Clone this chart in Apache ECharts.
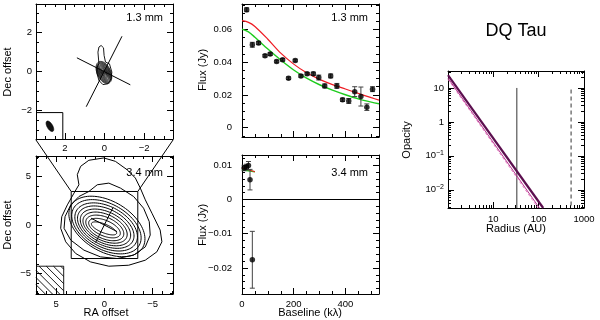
<!DOCTYPE html>
<html><head><meta charset="utf-8">
<script src="https://cdn.jsdelivr.net/npm/echarts@6/dist/echarts.min.js"></script>
<style>html,body{margin:0;padding:0;background:#fff}#c{width:600px;height:320px}</style>
</head><body><div id="c"></div>
<script>
// ================= DATA =================
// Map panels (arcsec offsets)
const map13Range = [-3.45, 3.45];
const map13Major = [-2, 0, 2];
const map13Minor = [-3, -2.5, -1.5, -1, -0.5, 0.5, 1, 1.5, 2.5, 3];
const map34Range = [-7.1, 7.1];
const map34Major = [-5, 0, 5];
const map34Minor = [-7, -6, -4, -3, -2, -1, 1, 2, 3, 4, 6, 7];

// 1.3 mm outer contour (with northern loop)
const contour13Outer = [[0.28,0.39],[0.33,0.99],[0.28,1.25],[0.17,1.33],[0.05,1.21],[0.02,0.82],[-0.05,0.48],[-0.25,0.39],[-0.37,-0.03],[-0.33,-0.38],[-0.17,-0.63],[0.08,-0.67],[0.28,-0.46],[0.38,-0.09],[0.38,0.22],[0.28,0.39]];
// 1.3 mm nested contour levels (elliptical): semi-axes, PA
const contour13A = [0.60,0.55,0.50,0.45,0.40,0.35,0.30,0.25,0.20,0.15,0.10,0.06];
const contour13B = [0.34,0.31,0.28,0.25,0.22,0.19,0.16,0.13,0.11,0.08,0.06,0.03];
const contour13PA = 24;
const contour13Center = [0.03, -0.05];
// beams
const beam13 = {x: 2.75, y: -2.8, a: 0.3, b: 0.14, pa: 30};
const beamBox13 = [2.1, -2.1];
const hatchBox34 = [4.23, -4.24];
// position-angle lines
const paLine1 = [[1.39, 0.70], [-1.30, -0.68]];
const paLine2 = [[0.92, -1.80], [-0.88, 1.80]];

// 3.4 mm irregular outer contours
const contour34L1 = [[2.65,4.14],[2.82,5.18],[2.47,6.04],[1.62,6.66],[0.07,6.9],[-1.13,6.55],[-2.34,5.69],[-3.2,4.83],[-3.71,3.8],[-4.23,2.59],[-4.92,1.21],[-5.77,-0.52],[-5.95,-1.73],[-5.43,-2.76],[-4.23,-3.62],[-2.51,-4.14],[-0.45,-4.24],[1.44,-3.8],[2.99,-2.93],[4.02,-1.73],[4.54,-0.34],[4.43,0.86],[3.85,2.07],[3.16,3.28],[2.65,4.14]];
const contour34L2 = [[1.62,3.45],[0.75,4.14],[-0.45,4.31],[-1.65,3.8],[-3.02,2.93],[-4.05,1.73],[-4.64,0.34],[-4.74,-1.04],[-4.23,-2.25],[-3.02,-3.1],[-1.31,-3.45],[0.41,-3.28],[2.13,-2.59],[3.5,-1.55],[4.19,-0.34],[4.09,0.86],[3.5,2.07],[2.65,2.93],[1.62,3.45]];
// 3.4 mm nested contour levels (elliptical)
const contour34A  = [4.3,3.9,3.5,3.15,2.8,2.45,2.1,1.75,1.4];
const contour34B  = [2.6,2.35,2.1,1.85,1.6,1.35,1.1,0.8,0.45];
const contour34PA = [60,61,62,63,64,65,66,67,68];
const contour34X  = [-0.25,-0.2,-0.17,-0.13,-0.1,-0.06,-0.03,0,0.05];
const contour34Y  = [-0.15,-0.18,-0.2,-0.22,-0.25,-0.27,-0.3,-0.32,-0.35];

// Visibility panels
const baselineRange = [0, 530];
const baselineMajor = [0, 200, 400];
const baselineMinor = [50, 100, 150, 250, 300, 350, 450, 500];
const flux13Range = [-0.0057, 0.0755];
const flux13Major = [0, 0.02, 0.04, 0.06];
const flux13Minor = [-0.005,0.005,0.01,0.015,0.025,0.03,0.035,0.045,0.05,0.055,0.065,0.07,0.075];
const flux34Range = [-0.0276, 0.013];
const flux34Major = [-0.02, -0.01, 0, 0.01];
const flux34Minor = [-0.026,-0.024,-0.022,-0.018,-0.016,-0.014,-0.012,-0.008,-0.006,-0.004,-0.002,0.002,0.004,0.006,0.008,0.012];

const uv13Baseline = [18,40,64,89,109,134,157,180,206,228,252,276,297,320,343,367,389,413,436,460,483,505];
const uv13Flux = [0.0720,0.0506,0.0517,0.0439,0.0449,0.0404,0.0414,0.0302,0.0410,0.0316,0.0329,0.0329,0.0306,0.0255,0.0316,0.0255,0.0170,0.0163,0.0220,0.0190,0.0125,0.0235];
const uv13Err  = [0.0012,0.0015,0.0010,0.0008,0.0008,0.0008,0.0008,0.0008,0.0008,0.0008,0.0008,0.0010,0.0015,0.0012,0.0012,0.0015,0.0010,0.0015,0.0030,0.0058,0.0020,0.0015];
const model13Baseline = [0,25,50,100,150,200,250,300,350,400,450,500,530];
const model13Red   = [0.0653,0.0643,0.0618,0.0540,0.0455,0.0388,0.0335,0.0295,0.0263,0.0236,0.0209,0.0183,0.0168];
const model13Green = [0.0602,0.0585,0.0552,0.0480,0.0413,0.0352,0.0302,0.0262,0.0229,0.0201,0.0176,0.0156,0.0146];

const uv34Baseline = [8, 17, 25, 31, 40];
const uv34Flux = [0.0092, 0.0095, 0.0099, 0.0058, -0.0176];
const uv34Err  = [0.0008, 0.0008, 0.0012, 0.0030, 0.0083];
const model34Baseline = [0, 25, 50];
const model34Red   = [0.0092, 0.0087, 0.0081];
const model34Green = [0.0087, 0.0084, 0.0081];

// Opacity panel
const radiusRange = [1, 1000];
const radiusMajor = [1, 10, 100, 1000];
const radiusMinor = [2,3,4,5,6,7,8,9,20,30,40,50,60,70,80,90,200,300,400,500,600,700,800,900];
const opacityRange = [0.0029, 31.6];
const opacityMajor = [0.01, 0.1, 1, 10];
const opacityMinor = [0.003,0.004,0.005,0.006,0.007,0.008,0.009,0.02,0.03,0.04,0.05,0.06,0.07,0.08,0.09,0.2,0.3,0.4,0.5,0.6,0.7,0.8,0.9,2,3,4,5,6,7,8,9,20,30];
const opacityRadiusA = [1, 126];  const opacityA = [24, 0.0029];
const opacityRadiusB = [1, 104];  const opacityB = [19.5, 0.0029];
const opacityRadiusC = [1, 97];   const opacityC = [18, 0.0029];
const gapRadius = 33;   const gapOpacity = [10, 0.0029];
const outerRadius = 520; const outerOpacity = [9, 0.0029];

// ================= BUILD =================
const FONT = 'Liberation Sans';
const TICKFS = 9.5;
const xAxes = [], yAxes = [];
const supRich = {b: {fontSize: TICKFS, fontFamily: FONT, color: '#000'}, s: {fontSize: 7, fontFamily: FONT, color: '#000', verticalAlign: 'top', padding: [0, 0, 5, 0]}};

function addAxes(list, grid, dim, cfg) {
  const dataIdx = list.length;
  list.push({type: cfg.log ? 'log' : 'value', logBase: 10, gridIndex: grid, min: cfg.min, max: cfg.max,
    inverse: !!cfg.inverse, show: false});
  const tr = cfg.log ? (v => Math.log10(v)) : (v => v);
  const dmin = tr(cfg.min), dmax = tr(cfg.max);
  const sides = dim === 'x' ? ['bottom', 'top'] : ['left', 'right'];
  sides.forEach((pos, si) => {
    list.push({
      type: 'value', gridIndex: grid, position: pos, min: dmin, max: dmax, inverse: !!cfg.inverse,
      axisLine: {show: true, onZero: false, lineStyle: {color: '#000', width: 1}},
      axisTick: {show: false},
      axisLabel: {show: si === 0 && !!cfg.fmt, customValues: cfg.majors.map(tr), formatter: cfg.fmt,
        margin: cfg.margin || 4, fontSize: TICKFS, fontFamily: FONT, color: '#000', rich: supRich},
      splitLine: {show: false}, splitArea: {show: false}
    });
  });
  return dataIdx;
}
const minus = v => (v < 0 ? '\u2212' + String(-v) : String(v));

const grids = [
  {left: 36, top: 4, width: 137, height: 135},
  {left: 36, top: 156, width: 137, height: 138},
  {left: 242, top: 4, width: 137, height: 133},
  {left: 242, top: 155, width: 137, height: 139},
  {left: 448, top: 71, width: 136, height: 137}
];
const TK = [
  {xr: map13Range, yr: map13Range, xM: map13Major, xm: map13Minor, yM: map13Major, ym: map13Minor, log: false},
  {xr: map34Range, yr: map34Range, xM: map34Major, xm: map34Minor, yM: map34Major, ym: map34Minor, log: false},
  {xr: baselineRange, yr: flux13Range, xM: baselineMajor, xm: baselineMinor, yM: flux13Major, ym: flux13Minor, log: false},
  {xr: baselineRange, yr: flux34Range, xM: baselineMajor, xm: baselineMinor, yM: flux34Major, ym: flux34Minor, log: false},
  {xr: radiusRange, yr: opacityRange, xM: radiusMajor, xm: radiusMinor, yM: opacityMajor, ym: opacityMinor, log: true}
];
const AX = [];
AX[0] = {x: addAxes(xAxes, 0, 'x', {min: map13Range[0], max: map13Range[1], inverse: true, majors: map13Major, fmt: minus, margin: 4}),
         y: addAxes(yAxes, 0, 'y', {min: map13Range[0], max: map13Range[1], majors: map13Major, fmt: minus, margin: 4})};
AX[1] = {x: addAxes(xAxes, 1, 'x', {min: map34Range[0], max: map34Range[1], inverse: true, majors: map34Major, fmt: minus, margin: 5}),
         y: addAxes(yAxes, 1, 'y', {min: map34Range[0], max: map34Range[1], majors: map34Major, fmt: minus, margin: 5})};
AX[2] = {x: addAxes(xAxes, 2, 'x', {min: baselineRange[0], max: baselineRange[1], majors: baselineMajor, fmt: null}),
         y: addAxes(yAxes, 2, 'y', {min: flux13Range[0], max: flux13Range[1], majors: flux13Major, fmt: minus, margin: 10})};
AX[3] = {x: addAxes(xAxes, 3, 'x', {min: baselineRange[0], max: baselineRange[1], majors: baselineMajor, fmt: minus, margin: 5}),
         y: addAxes(yAxes, 3, 'y', {min: flux34Range[0], max: flux34Range[1], majors: flux34Major, fmt: minus, margin: 10})};
AX[4] = {x: addAxes(xAxes, 4, 'x', {log: true, min: radiusRange[0], max: radiusRange[1], majors: radiusMajor, margin: 6,
            fmt: v => { const n = Math.round(v); return n === 0 ? '' : String(Math.pow(10, n)); }}),
         y: addAxes(yAxes, 4, 'y', {log: true, min: opacityRange[0], max: opacityRange[1], majors: opacityMajor, margin: 4,
            fmt: v => { const n = Math.round(v); if (n === 0) return '1'; if (n === 1) return '10'; return '{b|10}{s|\u2212' + (-n) + '}'; }})};

function ellipse(cx, cy, a, b, paDeg) {
  const pa = paDeg * Math.PI / 180, n = 90, pts = [];
  const ux = Math.sin(pa), uy = Math.cos(pa), vx = Math.cos(pa), vy = -Math.sin(pa);
  for (let i = 0; i <= n; i++) {
    const t = 2 * Math.PI * i / n, c = Math.cos(t), s = Math.sin(t);
    pts.push([cx + a * c * ux + b * s * vx, cy + a * c * uy + b * s * vy]);
  }
  return pts;
}
function polySeries(g, polys, st) {
  return {type: 'custom', xAxisIndex: AX[g].x, yAxisIndex: AX[g].y, silent: true, clip: false,
    data: polys.map((p, i) => [0, 0, i]),
    renderItem: (params, api) => {
      const pts = polys[api.value(2)].map(p => api.coord(p));
      return {type: st.fill ? 'polygon' : 'polyline', shape: {points: pts},
        style: {fill: st.fill || 'none', stroke: st.stroke || '#000', lineWidth: st.lw || 0.8}};
    }};
}
function lineSeries(g, xs, ys, st) {
  return {type: 'line', xAxisIndex: AX[g].x, yAxisIndex: AX[g].y, data: xs.map((x, i) => [x, ys[i]]),
    showSymbol: false, symbol: 'none', smooth: st.smooth || false, silent: true, clip: true,
    lineStyle: {color: st.color || '#000', width: st.width || 1, type: st.type || 'solid'}, z: st.z || 2};
}
function pairSeries(g, pts, st) {
  return lineSeries(g, pts.map(p => p[0]), pts.map(p => p[1]), st);
}
function errSeries(g, xs, ys, es) {
  return {type: 'custom', xAxisIndex: AX[g].x, yAxisIndex: AX[g].y, silent: true, clip: false,
    data: xs.map((x, i) => [x, ys[i], es[i]]),
    renderItem: (params, api) => {
      const x = api.value(0), y = api.value(1), e = api.value(2);
      const p1 = api.coord([x, y - e]), p2 = api.coord([x, y + e]), w = 2.5;
      const st = {stroke: '#444', lineWidth: 1, fill: 'none'};
      return {type: 'group', children: [
        {type: 'line', shape: {x1: p1[0], y1: p1[1], x2: p2[0], y2: p2[1]}, style: st},
        {type: 'line', shape: {x1: p1[0] - w, y1: p1[1], x2: p1[0] + w, y2: p1[1]}, style: st},
        {type: 'line', shape: {x1: p2[0] - w, y1: p2[1], x2: p2[0] + w, y2: p2[1]}, style: st}
      ]};
    }, z: 3};
}
function dotSeries(g, xs, ys) {
  return {type: 'scatter', xAxisIndex: AX[g].x, yAxisIndex: AX[g].y, data: xs.map((x, i) => [x, ys[i]]),
    symbol: 'circle', symbolSize: 5.5, itemStyle: {color: '#000'}, silent: true, z: 4};
}

const RED = '#ee1c24', GREEN = '#1fcc1f';
const series = [];
// --- panel 0: 1.3 mm map
const c13 = [contour13Outer].concat(contour13A.map((a, i) => ellipse(contour13Center[0], contour13Center[1], a, contour13B[i], contour13PA)));
series.push(polySeries(0, c13, {lw: 0.9}));
series.push(polySeries(0, [ellipse(beam13.x, beam13.y, beam13.a, beam13.b, beam13.pa)], {fill: '#111', stroke: '#000', lw: 0.6}));
series.push(pairSeries(0, paLine1, {}));
series.push(pairSeries(0, paLine2, {}));
series.push(pairSeries(0, [[map13Range[1], beamBox13[1]], [beamBox13[0], beamBox13[1]], [beamBox13[0], map13Range[0]]], {}));
// --- panel 1: 3.4 mm map
const c34 = [contour34L1, contour34L2].concat(contour34A.map((a, i) => ellipse(contour34X[i], contour34Y[i], a, contour34B[i], contour34PA[i])));
series.push(polySeries(1, c34, {lw: 1}));
series.push(pairSeries(1, paLine1, {}));
series.push(pairSeries(1, paLine2, {}));
series.push(pairSeries(1, [[map13Range[0], map13Range[0]], [map13Range[1], map13Range[0]], [map13Range[1], map13Range[1]], [map13Range[0], map13Range[1]], [map13Range[0], map13Range[0]]], {}));
series.push({type: 'custom', xAxisIndex: AX[1].x, yAxisIndex: AX[1].y, silent: true, clip: false,
  data: [[hatchBox34[0], hatchBox34[1], map34Range[1], map34Range[0]]],
  renderItem: (params, api) => {
    const p0 = api.coord([api.value(0), api.value(1)]), p1 = api.coord([api.value(2), api.value(3)]);
    const L = Math.min(p0[0], p1[0]), R = Math.max(p0[0], p1[0]), T = Math.min(p0[1], p1[1]), B = Math.max(p0[1], p1[1]);
    const st = {stroke: '#000', lineWidth: 0.9, fill: 'none'};
    const ch = [{type: 'polyline', shape: {points: [[L, T], [R, T], [R, B]]}, style: st}];
    for (let k = T - R + 3; k < B - L; k += 7.2) {
      const xa = Math.max(L, T - k), xb = Math.min(R, B - k);
      if (xb > xa) ch.push({type: 'line', shape: {x1: xa, y1: xa + k, x2: xb, y2: xb + k}, style: st});
    }
    return {type: 'group', children: ch};
  }});
// --- panel 2: 1.3 mm visibilities
series.push(lineSeries(2, model13Baseline, model13Green, {color: GREEN, width: 1.4, smooth: 0.3}));
series.push(lineSeries(2, model13Baseline, model13Red, {color: RED, width: 1.2, smooth: 0.3}));
series.push(errSeries(2, uv13Baseline, uv13Flux, uv13Err));
series.push(dotSeries(2, uv13Baseline, uv13Flux));
// --- panel 3: 3.4 mm visibilities
series.push(lineSeries(3, baselineRange, [0, 0], {color: '#000', width: 1}));
series.push(lineSeries(3, model34Baseline, model34Green, {color: GREEN, width: 1.4}));
series.push(lineSeries(3, model34Baseline, model34Red, {color: RED, width: 1.2}));
series.push(errSeries(3, uv34Baseline, uv34Flux, uv34Err));
series.push(dotSeries(3, uv34Baseline, uv34Flux));
// --- panel 4: opacity
series.push(lineSeries(4, [gapRadius, gapRadius], gapOpacity, {color: '#000', width: 0.8}));
series.push(lineSeries(4, [outerRadius, outerRadius], outerOpacity, {color: '#808080', width: 1.6, type: [4, 3]}));
series.push(lineSeries(4, opacityRadiusC, opacityC, {color: '#e58ac5', width: 1, type: [3, 2]}));
series.push(lineSeries(4, opacityRadiusB, opacityB, {color: '#b8308f', width: 1}));
series.push(lineSeries(4, opacityRadiusA, opacityA, {color: '#5c0f4f', width: 2.2}));

const chart = echarts.init(document.getElementById('c'), null, {renderer: 'canvas'});
chart.setOption({
  animation: false, backgroundColor: '#fff',
  textStyle: {fontFamily: FONT, color: '#000'},
  grid: grids, xAxis: xAxes, yAxis: yAxes, series: series
});

const px = (g, p) => chart.convertToPixel({xAxisIndex: AX[g].x, yAxisIndex: AX[g].y}, p);

// ---- tick marks: ECharts' own axis ticks on helper grids whose ends sit on tick positions
// (each helper axis runs 0..n with interval 1, so its ticks fall exactly on evenly spaced tick values)
function tickRuns(vals, log) {
  const v = vals.slice().sort((a, b) => a - b);
  const d = v.map(x => log ? Math.log10(x) : x);
  const out = [];
  let i = 0;
  while (i < v.length) {
    if (i === v.length - 1) { out.push([v[i - 1], v[i], 1]); break; }
    let j = i + 1;
    const step = d[j] - d[i];
    while (j + 1 < v.length && Math.abs((d[j + 1] - d[j]) - step) < 1e-9 + 1e-6 * Math.abs(step)) j++;
    out.push([v[i], v[j], j - i]);
    i = j + 1;
  }
  return out;
}
const tGrids = [], tX = [], tY = [];
function tickAxis(gi, pos, n, len, hidden) {
  if (hidden) return {type: 'value', gridIndex: gi, min: 0, max: 1, show: false};
  return {type: 'value', gridIndex: gi, position: pos, min: 0, max: n, interval: 1,
    axisLine: {show: false, onZero: false}, axisLabel: {show: false}, splitLine: {show: false},
    axisTick: {show: true, inside: true, length: len, interval: 0, lineStyle: {color: '#000', width: 1}}};
}
for (let g = 0; g < 5; g++) {
  const t = TK[g];
  const c0 = px(g, [t.xr[0], t.yr[0]]), c1 = px(g, [t.xr[1], t.yr[1]]);
  const gl = Math.min(c0[0], c1[0]), gr = Math.max(c0[0], c1[0]);
  const gt = Math.min(c0[1], c1[1]), gb = Math.max(c0[1], c1[1]);
  const sets = [
    ['x', t.xM, 6], ['x', t.xM.concat(t.xm), 3],
    ['y', t.yM, 6], ['y', t.yM.concat(t.ym), 3]
  ];
  sets.forEach(([dim, vals, len]) => {
    tickRuns(vals, t.log).forEach(([a, b, n]) => {
      const gi = grids.length + tGrids.length;
      if (dim === 'x') {
        const pa = px(g, [a, t.yr[0]])[0], pb = px(g, [b, t.yr[0]])[0];
        tGrids.push({left: Math.min(pa, pb), width: Math.abs(pb - pa), top: gt, height: gb - gt});
        tX.push(tickAxis(gi, 'bottom', n, len), tickAxis(gi, 'top', n, len));
        tY.push(tickAxis(gi, 'left', 1, 0, true));
      } else {
        const pa = px(g, [t.xr[0], a])[1], pb = px(g, [t.xr[0], b])[1];
        tGrids.push({left: gl, width: gr - gl, top: Math.min(pa, pb), height: Math.abs(pb - pa)});
        tY.push(tickAxis(gi, 'left', n, len), tickAxis(gi, 'right', n, len));
        tX.push(tickAxis(gi, 'bottom', 1, 0, true));
      }
    });
  });
}
chart.setOption({grid: grids.concat(tGrids), xAxis: xAxes.concat(tX), yAxis: yAxes.concat(tY)});

function txt(text, x, y, o) {
  o = o || {};
  return {type: 'text', x: x, y: y, rotation: o.rot || 0, silent: true, z: 50,
    style: {text: text, fontSize: o.fs || 11, fontFamily: FONT, fill: '#000', align: o.align || 'center', verticalAlign: 'middle'}};
}
const bl = px(0, [map13Range[1], map13Range[0]]), br = px(0, [map13Range[0], map13Range[0]]);
const sl = px(1, [map13Range[1], map13Range[1]]), sr = px(1, [map13Range[0], map13Range[1]]);
const R90 = Math.PI / 2;
chart.setOption({graphic: [
  {type: 'line', silent: true, shape: {x1: bl[0], y1: bl[1] + 1, x2: sl[0], y2: sl[1]}, style: {stroke: '#000', lineWidth: 1}},
  {type: 'line', silent: true, shape: {x1: br[0], y1: br[1] + 1, x2: sr[0], y2: sr[1]}, style: {stroke: '#000', lineWidth: 1}},
  txt('1.3 mm', 163, 18, {align: 'right'}),
  txt('3.4 mm', 163, 173, {align: 'right'}),
  txt('1.3 mm', 368, 18, {align: 'right'}),
  txt('3.4 mm', 368, 173, {align: 'right'}),
  txt('Dec offset', 8, 72, {rot: R90}),
  txt('Dec offset', 8, 225, {rot: R90}),
  txt('Flux (Jy)', 203, 70, {rot: R90}),
  txt('Flux (Jy)', 203, 225, {rot: R90}),
  txt('Opacity', 407, 140, {rot: R90}),
  txt('RA offset', 106, 313),
  txt('Baseline (k\u03bb)', 310, 313),
  txt('Radius (AU)', 516, 229),
  txt('DQ Tau', 516, 31, {fs: 18})
]});
</script>
</body></html>
